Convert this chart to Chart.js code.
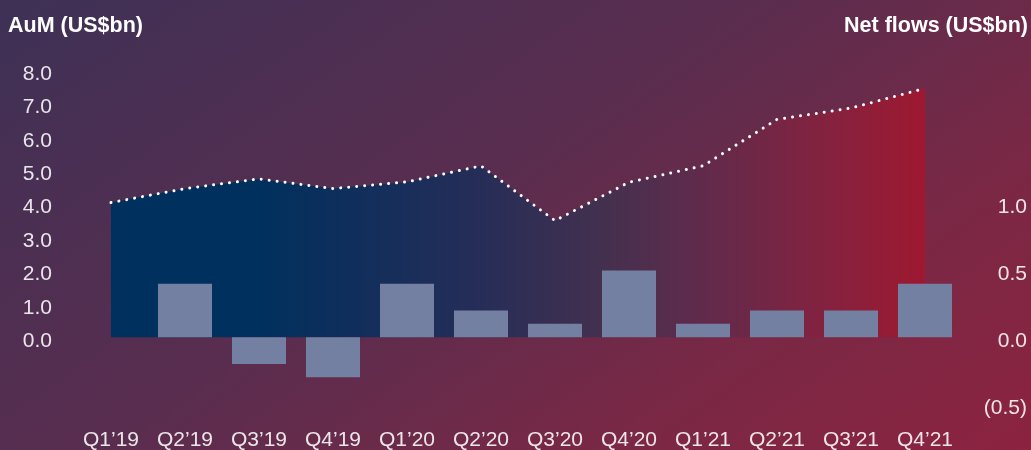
<!DOCTYPE html>
<html>
<head>
<meta charset="utf-8">
<script src="https://cdn.jsdelivr.net/npm/chart.js@4/dist/chart.umd.min.js"></script>
<style>
    html, body { margin: 0; padding: 0; }
    body {
        width: 1031px;
        height: 450px;
        overflow: hidden;
        background: linear-gradient(145deg, #3e3156 0%, #5a2d4f 45%, #7a2845 75%, #8c2340 100%);
        font-family: 'Liberation Sans', Arial, sans-serif;
    }
    .wrap { position: relative; width: 1031px; height: 450px; }
    .axis-title {
        position: absolute;
        top: 12px;
        color: #ffffff;
        font-weight: bold;
        font-size: 21.5px;
        line-height: 26px;
        white-space: nowrap;
    }
    #title-left { left: 8px; }
    #title-right { right: 3px; }
</style>
</head>
<body>
<div class="wrap">
    <canvas id="aumChart"></canvas>
    <div class="axis-title" id="title-left">AuM (US$bn)</div>
    <div class="axis-title" id="title-right">Net flows (US$bn)</div>
</div>
<script>
    // Data
    const quarters = ['Q1’19', 'Q2’19', 'Q3’19', 'Q4’19', 'Q1’20', 'Q2’20', 'Q3’20', 'Q4’20', 'Q1’21', 'Q2’21', 'Q3’21', 'Q4’21'];
    const aumValues = [4.03, 4.45, 4.74, 4.45, 4.65, 5.13, 3.49, 4.64, 5.13, 6.52, 6.86, 7.45];
    const netFlows = [0, 0.4, -0.2, -0.3, 0.4, 0.2, 0.1, 0.5, 0.1, 0.2, 0.2, 0.4];
    const aumTicks = [0, 1, 2, 3, 4, 5, 6, 7, 8];
    const flowTicks = [-0.5, 0, 0.5, 1.0];

    const tickColor = 'rgba(255, 255, 255, 0.88)';
    const xFont = { family: "'Liberation Sans', Arial, sans-serif", size: 21 };
    // lineHeight kecil + baris kosong di atas -> label turun ~4px dari garis tick, seperti aslinya
    const yFont = { family: "'Liberation Sans', Arial, sans-serif", size: 21, lineHeight: '8px' };

    // Gradient isi area: biru tua di kiri, merah di kanan
    function areaGradient(context) {
        const chart = context.chart;
        const area = chart.chartArea;
        if (!area) return '#00305e';
        const x0 = chart.scales.x.getPixelForValue(0);
        const x1 = chart.scales.x.getPixelForValue(quarters.length - 1);
        const g = chart.ctx.createLinearGradient(x0, 0, x1, 0);
        g.addColorStop(0, '#00305e');
        g.addColorStop(0.18, '#00305e');
        g.addColorStop(0.45, '#252d58');
        g.addColorStop(0.6, '#43304f');
        g.addColorStop(0.72, '#5f2b4c');
        g.addColorStop(0.88, '#84223f');
        g.addColorStop(1, '#9e1830');
        return g;
    }

    const ctx = document.getElementById('aumChart').getContext('2d');
    new Chart(ctx, {
        data: {
            labels: quarters,
            datasets: [
                {
                    type: 'bar',
                    label: 'Net flows',
                    data: netFlows,
                    yAxisID: 'y1',
                    backgroundColor: '#7480a2',
                    borderWidth: 0,
                    categoryPercentage: 0.73,
                    barPercentage: 1,
                    order: 1
                },
                {
                    type: 'line',
                    label: 'AuM',
                    data: aumValues,
                    yAxisID: 'y',
                    borderColor: '#ffffff',
                    borderWidth: 3,
                    borderDash: [0.01, 8],
                    borderCapStyle: 'round',
                    pointRadius: 0,
                    tension: 0,
                    fill: 'origin',
                    backgroundColor: areaGradient,
                    order: 2
                }
            ]
        },
        options: {
            responsive: true,
            maintainAspectRatio: false,
            animation: false,
            layout: { padding: { top: 70, right: 4, bottom: 0, left: 0 } },
            plugins: {
                legend: { display: false },
                tooltip: { enabled: false }
            },
            scales: {
                x: {
                    offset: true,
                    grid: { display: false, drawTicks: false },
                    border: { display: false },
                    ticks: { color: tickColor, font: xFont, padding: 24, maxRotation: 0, autoSkip: false },
                    afterFit: (scale) => { scale.height = 46; }
                },
                y: {
                    position: 'left',
                    min: -2,
                    max: 8,
                    grid: { display: false, drawTicks: false },
                    border: { display: false },
                    ticks: {
                        stepSize: 1,
                        color: tickColor,
                        font: yFont,
                        padding: 22,
                        callback: (v) => aumTicks.includes(v) ? ['', v.toFixed(1)] : ''
                    },
                    afterFit: (scale) => { scale.width = 74; }
                },
                y1: {
                    position: 'right',
                    min: -0.5,
                    max: 2.0,
                    grid: { display: false, drawTicks: false },
                    border: { display: false },
                    ticks: {
                        stepSize: 0.5,
                        color: tickColor,
                        font: yFont,
                        crossAlign: 'far',
                        callback: (v) => {
                            if (!flowTicks.includes(v)) return '';
                            const txt = v < 0 ? '(' + Math.abs(v).toFixed(1) + ')' : v.toFixed(1);
                            return ['', txt];
                        }
                    },
                    afterFit: (scale) => { scale.width = 65; }
                }
            }
        }
    });
</script>
</body>
</html>
